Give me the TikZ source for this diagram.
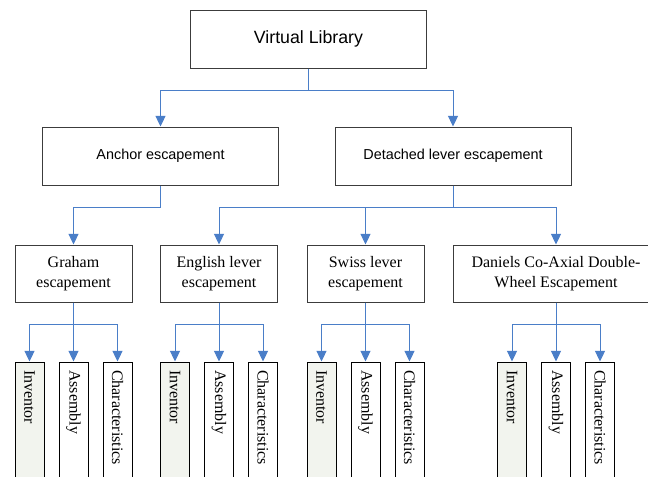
\documentclass[tikz,border=0pt]{standalone}
\usepackage{fontspec}
\setmainfont{Liberation Serif}
\newfontfamily\headfont{Liberation Sans}
\usepackage{tikz}
\usetikzlibrary{arrows.meta}
\definecolor{linkblue}{RGB}{74,126,200}
\definecolor{invfill}{RGB}{242,244,238}
\definecolor{boxline}{RGB}{60,60,60}

\begin{document}
\begin{tikzpicture}[x=0.75pt,y=0.75pt,yscale=-1,xscale=1,
  topbox/.style={draw=boxline,line width=0.75pt,minimum width=177pt,minimum height=43.5pt,inner sep=0pt,font=\headfont\fontsize{10.8}{13}\selectfont},
  midbox/.style={draw=boxline,line width=0.75pt,minimum width=87.75pt,minimum height=42.75pt,inner sep=0pt,align=center,font=\fontsize{12}{15}\selectfont},
  leafbox/.style={draw=black,line width=0.75pt,rotate=-90,anchor=west,minimum height=21.75pt,text width=82pt,inner xsep=6pt,inner ysep=0pt,align=left,font=\fontsize{12}{14}\selectfont},
  link/.style={draw=linkblue,line width=0.75pt,-{Triangle[width=7.5pt,length=8pt]}}]
\useasboundingbox (0,0) rectangle (648,476);
\fill[white] (0,0) rectangle (648,476);

% Root
\node[topbox,font=\headfont\fontsize{13.3}{15}\selectfont] (vl) at (308.5,39) {Virtual Library};

% Escapement types
\node[topbox] (anchor) at (160.5,156) {Anchor escapement};
\node[topbox] (detached) at (453,156) {Detached lever escapement};

% Escapements
\node[midbox] (graham) at (73.5,273.5) {Graham\\escapement};
\node[midbox] (english) at (219,273.5) {English lever\\escapement};
\node[midbox] (swiss) at (365.5,273.5) {Swiss lever\\escapement};
\node[midbox,minimum width=154.5pt] (daniels) at (556,273.5) {Daniels Co-Axial Double-\\Wheel Escapement};

% Connectors between levels
\draw[link] (vl.south) -- ++(0,22) -| (anchor.north);
\draw[link] (vl.south) -- ++(0,22) -| (detached.north);
\draw[link] (anchor.south) -- ++(0,22) -| (graham.north);
\foreach \c in {english,swiss,daniels}
  \draw[link] (detached.south) -- ++(0,22) -| (\c.north);

% Leaves
\foreach \p in {graham,english,swiss,daniels} {
  \path (\p.south) ++(-44,59) node[leafbox,fill=invfill] (\p-inv) {Inventor};
  \path (\p.south) ++(0,59) node[leafbox,fill=white] (\p-asm) {Assembly};
  \path (\p.south) ++(44,59) node[leafbox,fill=white] (\p-chr) {Characteristics};
  \draw[link] (\p.south) -- ++(0,22) -| (\p-inv.west);
  \draw[link] (\p.south) -- (\p-asm.west);
  \draw[link] (\p.south) -- ++(0,22) -| (\p-chr.west);
}

\end{tikzpicture}
\end{document}
